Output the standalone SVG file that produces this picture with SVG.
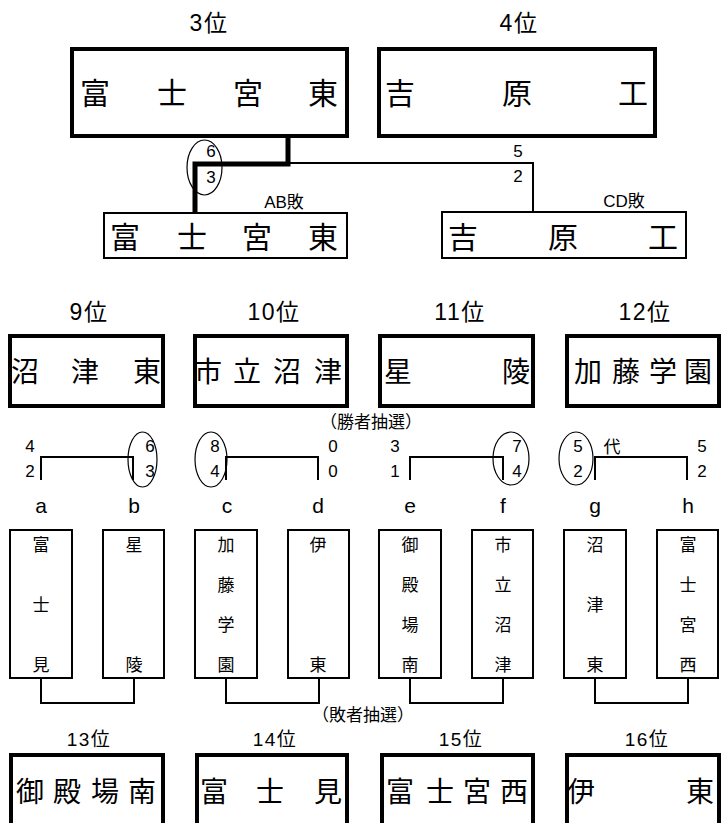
<svg xmlns="http://www.w3.org/2000/svg" width="726" height="823" viewBox="0 0 726 823">
<style>
text{font-family:"Liberation Sans","Noto Sans CJK JP",sans-serif;fill:#000;text-anchor:middle}
.rank{font-size:23px;letter-spacing:1.5px}
.rank2{font-size:19px;letter-spacing:1.5px}
.big{font-size:30px}
.mid{font-size:28px}
.vt{font-size:17px}
.sc{font-size:17px}
.lt{font-size:21px}
.lbl{font-size:17px}
.thick{fill:#fff;stroke:#000;stroke-width:4}
.thin{fill:#fff;stroke:#000;stroke-width:2}
.ln{fill:none;stroke:#000;stroke-width:2}
.ov{fill:none;stroke:#000;stroke-width:1.2}
</style>
<rect width="726" height="823" fill="#fff"/>

<g id="connectors">
  <path d="M288,138 V164 H195 V213" fill="none" stroke="#000" stroke-width="5"/>
  <path d="M288,163 H533 V212" class="ln" stroke-width="1.6"/>
  <path d="M41,480 V457 H133 V480" class="ln"/>
  <path d="M226,480 V457 H318 V480" class="ln"/>
  <path d="M410,480 V457 H503 V480" class="ln"/>
  <path d="M595,480 V457 H687 V480" class="ln"/>
  <path d="M41,678 V703 H134 V678" class="ln"/>
  <path d="M226,678 V703 H319 V678" class="ln"/>
  <path d="M410,678 V703 H503 V678" class="ln"/>
  <path d="M595,678 V703 H688 V678" class="ln"/>
</g>

<g id="scores">
  <ellipse cx="204.5" cy="167.5" rx="17.5" ry="27.5" class="ov"/>
  <text class="sc" x="211" y="157">6</text>
  <text class="sc" x="211" y="183">3</text>
  <text class="sc" x="518" y="157">5</text>
  <text class="sc" x="518" y="182">2</text>
  <text class="lbl" x="284" y="208">AB敗</text>
  <text class="lbl" x="624" y="207">CD敗</text>

  <ellipse cx="142.5" cy="459.5" rx="14.5" ry="27.5" class="ov"/>
  <ellipse cx="211" cy="459.5" rx="16" ry="27.5" class="ov"/>
  <ellipse cx="511" cy="458.5" rx="18" ry="26.5" class="ov"/>
  <ellipse cx="576" cy="458.5" rx="17" ry="26.5" class="ov"/>
  <text class="sc" x="30" y="452">4</text><text class="sc" x="30" y="477">2</text>
  <text class="sc" x="150" y="452">6</text><text class="sc" x="150" y="477">3</text>
  <text class="sc" x="215" y="452">8</text><text class="sc" x="215" y="477">4</text>
  <text class="sc" x="333" y="452">0</text><text class="sc" x="333" y="477">0</text>
  <text class="sc" x="395" y="452">3</text><text class="sc" x="395" y="477">1</text>
  <text class="sc" x="517" y="452">7</text><text class="sc" x="517" y="477">4</text>
  <text class="sc" x="578" y="452">5</text><text class="sc" x="578" y="477">2</text>
  <text class="lbl" x="612" y="453">代</text>
  <text class="sc" x="702" y="452">5</text><text class="sc" x="702" y="477">2</text>
  <text class="lbl" x="371" y="428">（勝者抽選）</text>
  <text class="lbl" x="363" y="721">（敗者抽選）</text>
</g>

<g id="rank3">
  <text class="rank" x="209" y="31">3位</text>
  <rect class="thick" x="72" y="49" width="275" height="87"/>
  <text class="big" x="95 172 248 323" y="104">富士宮東</text>
</g>
<g id="rank4">
  <text class="rank" x="519" y="31">4位</text>
  <rect class="thick" x="379" y="49" width="276" height="87"/>
  <text class="big" x="400 517 633" y="104">吉原工</text>
</g>
<g id="ab-loser">
  <rect class="thin" x="104" y="213" width="243" height="45"/>
  <text class="big" x="125 192 257 323" y="248">富士宮東</text>
</g>
<g id="cd-loser">
  <rect class="thin" x="442" y="212" width="244" height="46"/>
  <text class="big" x="463 563 663" y="248">吉原工</text>
</g>

<g id="rank9">
  <text class="rank" x="89" y="320">9位</text>
  <rect class="thick" x="10" y="336" width="153" height="70"/>
  <text class="mid" x="25 85 147" y="382">沼津東</text>
</g>
<g id="rank10">
  <text class="rank" x="274" y="320">10位</text>
  <rect class="thick" x="195" y="336" width="152" height="70"/>
  <text class="mid" x="208 247 287 328" y="382">市立沼津</text>
</g>
<g id="rank11">
  <text class="rank" x="460" y="320">11位</text>
  <rect class="thick" x="380" y="336" width="153" height="70"/>
  <text class="mid" x="398 516" y="382">星陵</text>
</g>
<g id="rank12">
  <text class="rank" x="645" y="320">12位</text>
  <rect class="thick" x="567" y="336" width="152" height="70"/>
  <text class="mid" x="588 626 663 698" y="382">加藤学園</text>
</g>

<g id="team-a">
  <text class="lt" x="41" y="513">a</text>
  <rect class="thin" x="10" y="530" width="62" height="148"/>
  <text class="vt" x="41 41 41" y="551 611 671">富士見</text>
</g>
<g id="team-b">
  <text class="lt" x="134" y="513">b</text>
  <rect class="thin" x="103" y="530" width="61" height="148"/>
  <text class="vt" x="134 134" y="551 671">星陵</text>
</g>
<g id="team-c">
  <text class="lt" x="227" y="513">c</text>
  <rect class="thin" x="195" y="530" width="62" height="148"/>
  <text class="vt" x="226 226 226 226" y="551 591 631 671">加藤学園</text>
</g>
<g id="team-d">
  <text class="lt" x="318" y="513">d</text>
  <rect class="thin" x="288" y="530" width="61" height="148"/>
  <text class="vt" x="318 318" y="551 671">伊東</text>
</g>
<g id="team-e">
  <text class="lt" x="410" y="513">e</text>
  <rect class="thin" x="379" y="530" width="62" height="148"/>
  <text class="vt" x="410 410 410 410" y="551 591 631 671">御殿場南</text>
</g>
<g id="team-f">
  <text class="lt" x="503" y="513">f</text>
  <rect class="thin" x="472" y="530" width="61" height="148"/>
  <text class="vt" x="503 503 503 503" y="551 591 631 671">市立沼津</text>
</g>
<g id="team-g">
  <text class="lt" x="595" y="513">g</text>
  <rect class="thin" x="564" y="530" width="62" height="148"/>
  <text class="vt" x="595 595 595" y="551 611 671">沼津東</text>
</g>
<g id="team-h">
  <text class="lt" x="688" y="513">h</text>
  <rect class="thin" x="657" y="530" width="61" height="148"/>
  <text class="vt" x="688 688 688 688" y="551 591 631 671">富士宮西</text>
</g>

<g id="rank13">
  <text class="rank2" x="89" y="746">13位</text>
  <rect class="thick" x="11" y="755" width="152" height="120"/>
  <text class="mid" x="30 67 105 142" y="802">御殿場南</text>
</g>
<g id="rank14">
  <text class="rank2" x="275" y="746">14位</text>
  <rect class="thick" x="197" y="755" width="150" height="120"/>
  <text class="mid" x="214 270 328" y="802">富士見</text>
</g>
<g id="rank15">
  <text class="rank2" x="461" y="746">15位</text>
  <rect class="thick" x="382" y="755" width="151" height="120"/>
  <text class="mid" x="400 440 477 514" y="802">富士宮西</text>
</g>
<g id="rank16">
  <text class="rank2" x="647" y="746">16位</text>
  <rect class="thick" x="567" y="755" width="152" height="120"/>
  <text class="mid" x="581 700" y="802">伊東</text>
</g>
</svg>
